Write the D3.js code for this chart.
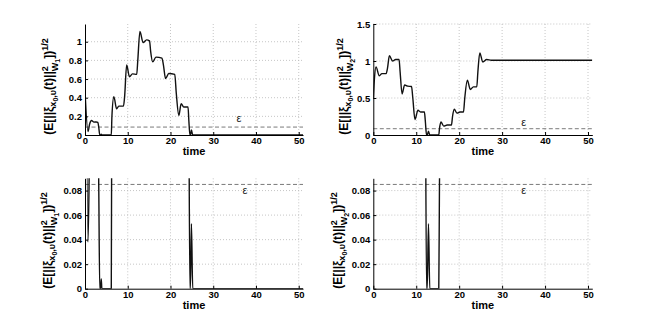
<!doctype html>
<html>
<head>
<script src="https://d3js.org/d3.v7.min.js"></script>
<style>
  body { margin: 0; background: #fff; }
  text { font-family: "Liberation Sans", Arial, sans-serif; }
</style>
</head>
<body>
<script>
// ---- data ----
var timeW1 = [0, 0.7, 1.1, 1.5, 2.1, 2.6, 3.0, 3.2, 3.45, 3.65, 3.8, 3.95, 6.15, 6.3, 6.75, 7.4, 7.9, 9.0,
  9.25, 9.75, 10.4, 11.1, 12.1, 12.35, 12.85, 13.6, 14.4, 15.1, 15.35, 15.85, 16.6, 18.0, 18.35, 18.85,
  19.6, 21.0, 21.35, 21.95, 22.5, 23.1, 24.1, 24.3, 24.55, 24.65, 24.9, 25.2, 51];
var valW1 = [0.48, 0.038, 0.12, 0.155, 0.138, 0.14, 0.135, 0.09, 0, 0, 0.008, 0, 0, 0.2, 0.41, 0.28, 0.31, 0.31,
  0.4, 0.75, 0.625, 0.655, 0.65, 0.8, 1.11, 0.99, 1.02, 1.01, 0.9, 0.785, 0.835, 0.825, 0.75, 0.605,
  0.66, 0.65, 0.45, 0.21, 0.335, 0.3, 0.3, 0.15, 0, 0, 0.053, 0, 0];

var timeW2 = [0, 0.25, 0.63, 1.4, 2.0, 3.0, 3.3, 3.75, 4.5, 5.2, 6.0, 6.25, 6.7, 7.3, 8.0, 8.9, 9.2, 9.7,
  10.4, 11.0, 11.9, 12.1, 12.4, 12.55, 12.85, 13.15, 15.25, 15.4, 15.75, 16.4, 17.2, 18.2, 18.45, 18.85,
  19.5, 20.2, 21.0, 21.3, 21.9, 22.6, 23.3, 24.1, 24.35, 24.8, 25.5, 26.4, 27.5, 51];
var valW2 = [0.49, 0.75, 0.92, 0.80, 0.83, 0.83, 0.9, 1.07, 1.0, 1.02, 1.02, 0.85, 0.555, 0.675, 0.66, 0.655, 0.5, 0.21,
  0.335, 0.31, 0.31, 0.2, 0, 0, 0.053, 0, 0, 0.08, 0.176, 0.12, 0.135, 0.135, 0.25, 0.347,
  0.295, 0.31, 0.31, 0.5, 0.74, 0.615, 0.65, 0.65, 0.85, 1.11, 0.986, 1.02, 1.01, 1.01];

var epsilon = 0.085;
var xTicks = [0, 10, 20, 30, 40, 50];
var yTicksW1 = [0, 0.2, 0.4, 0.6, 0.8, 1];
var yTicksW2 = [0, 0.5, 1, 1.5];
var yTicksZoom = [0, 0.02, 0.04, 0.06, 0.08];

var width = 654, height = 325;
var svg = d3.select("body").append("svg")
  .attr("width", width)
  .attr("height", height);

var panels = [
  {left: 85, right: 303, top: 24, bottom: 135, ymax: 1.19, yTicks: yTicksW1, t: timeW1, v: valW1,
   w: "1", labX: 32, eps: [36, 0.18]},
  {left: 373.3, right: 592.3, top: 24, bottom: 135, ymax: 1.5, yTicks: yTicksW2, t: timeW2, v: valW2,
   w: "2", labX: 25, eps: [35, 0.18]},
  {left: 85, right: 303, top: 178.3, bottom: 288.7, ymax: 0.09, yTicks: yTicksZoom, t: timeW1, v: valW1,
   w: "1", labX: 33, eps: [37.4, 0.0805]},
  {left: 373.3, right: 592.3, top: 178.3, bottom: 288.7, ymax: 0.09, yTicks: yTicksZoom, t: timeW2, v: valW2,
   w: "2", labX: 31, eps: [35, 0.0805]}
];

panels.forEach(function(p, i) {
  var x = d3.scaleLinear().domain([0, 51]).range([p.left, p.right]);
  var y = d3.scaleLinear().domain([0, p.ymax]).range([p.bottom, p.top]);
  var g = svg.append("g");

  // dotted grid
  g.selectAll(".vg").data(xTicks.slice(1)).enter().append("line")
    .attr("x1", d => x(d)).attr("x2", d => x(d))
    .attr("y1", p.top).attr("y2", p.bottom)
    .attr("stroke", "#b8b8b8").attr("stroke-width", 0.8).attr("stroke-dasharray", "1,2");
  g.selectAll(".hg").data(p.yTicks.slice(1)).enter().append("line")
    .attr("x1", p.left).attr("x2", p.right)
    .attr("y1", d => y(d)).attr("y2", d => y(d))
    .attr("stroke", "#b8b8b8").attr("stroke-width", 0.8).attr("stroke-dasharray", "1,2");

  // epsilon threshold
  g.append("line")
    .attr("x1", p.left).attr("x2", p.right)
    .attr("y1", y(epsilon)).attr("y2", y(epsilon))
    .attr("stroke", "#7a7a7a").attr("stroke-width", 1).attr("stroke-dasharray", "4,2.5");
  g.append("text")
    .attr("x", x(p.eps[0])).attr("y", y(p.eps[1]))
    .attr("text-anchor", "middle").attr("dominant-baseline", "central")
    .attr("font-size", 11).attr("fill", "#222")
    .text("ε");

  // clipped curve
  var clipId = "clip" + i;
  svg.append("clipPath").attr("id", clipId).append("rect")
    .attr("x", p.left).attr("y", p.top)
    .attr("width", p.right - p.left).attr("height", p.bottom - p.top);
  var pts = p.t.map((t, k) => [t, p.v[k]]);
  g.append("path")
    .datum(pts)
    .attr("clip-path", "url(#" + clipId + ")")
    .attr("fill", "none").attr("stroke", "#111").attr("stroke-width", 1.4)
    .attr("d", d3.line().x(d => x(d[0])).y(d => y(d[1])).curve(d3.curveMonotoneX));

  // axes
  var xAxis = d3.axisBottom(x).tickValues(xTicks).tickSizeInner(-3).tickSizeOuter(0).tickPadding(2.5);
  var yAxis = d3.axisLeft(y).tickValues(p.yTicks).tickSizeInner(-3).tickSizeOuter(0).tickPadding(3)
    .tickFormat(d => d3.format("~g")(d));
  var gx = g.append("g").attr("transform", `translate(0, ${p.bottom})`).call(xAxis);
  var gy = g.append("g").attr("transform", `translate(${p.left}, 0)`).call(yAxis);
  [gx, gy].forEach(function(ax) {
    ax.select(".domain").attr("stroke", "#000").attr("stroke-width", 1);
    ax.selectAll(".tick line").attr("stroke", "#000");
    ax.selectAll(".tick text").attr("font-size", 9.5).attr("font-weight", "bold").attr("fill", "#000")
      .attr("font-family", "Liberation Sans, Arial, sans-serif");
  });

  g.append("text")
    .attr("x", (p.left + p.right) / 2).attr("y", p.bottom + 20)
    .attr("text-anchor", "middle").attr("font-size", 11).attr("font-weight", "bold")
    .text("time");

  // y label: (E[||xi_{x0,v}(t)||^2_{W1}])^{1/2}
  var cy = (p.top + p.bottom) / 2 + 7;
  var lab = g.append("text")
    .attr("transform", `translate(${p.left - p.labX}, ${cy}) rotate(-90)`)
    .attr("text-anchor", "middle").attr("font-size", 12).attr("font-weight", "bold");
  lab.append("tspan").text("(E[||ξ");
  lab.append("tspan").attr("font-size", 9).attr("dy", 3).text("x");
  lab.append("tspan").attr("font-size", 7).attr("dy", 2).text("0");
  lab.append("tspan").attr("font-size", 9).attr("dy", -2).text(",υ");
  lab.append("tspan").attr("dy", -3).text("(t)||");
  lab.append("tspan").attr("font-size", 9).attr("dy", -5).text("2");
  lab.append("tspan").attr("font-size", 9).attr("dx", -5).attr("dy", 10).text("W");
  lab.append("tspan").attr("font-size", 7).attr("dy", 2).text(p.w);
  lab.append("tspan").attr("dy", -7).text("])");
  lab.append("tspan").attr("font-size", 9).attr("dy", -5).text("1/2");
});
</script>
</body>
</html>
